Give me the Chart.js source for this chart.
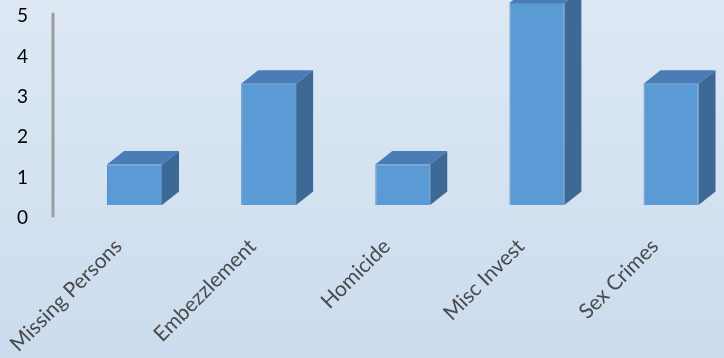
<!DOCTYPE html>
<html>
<head>
<meta charset="utf-8">
<title>Cases by type</title>
<script src="https://cdn.jsdelivr.net/npm/chart.js@4"></script>
<style>
  html, body { margin: 0; padding: 0; }
  body {
    width: 724px; height: 358px; overflow: hidden;
    background: linear-gradient(to bottom, #dde8f4, #cbdcee);
  }
  #wrap { position: relative; width: 724px; height: 358px; }
</style>
</head>
<body>
<div id="wrap"><canvas id="cases-chart"></canvas></div>
<script>
const categories = ['Missing Persons', 'Embezzlement', 'Homicide', 'Misc Invest', 'Sex Crimes'];
const caseCounts = [1, 3, 1, 5, 3];
const countTicks = [0, 1, 2, 3, 4, 5];

// oblique depth of the 3D columns
const depthX = 17;
const depthY = 13.5;

// top and right faces for each column
const columnFaces = {
    id: 'columnFaces',
    afterDatasetsDraw(chart) {
        const ctx = chart.ctx;
        chart.getDatasetMeta(0).data.forEach(bar => {
            const { x, y, base, width } = bar.getProps(['x', 'y', 'base', 'width'], true);
            const l = x - width / 2;
            const r = x + width / 2;
            ctx.save();
            ctx.fillStyle = '#4a7db7';
            ctx.beginPath();
            ctx.moveTo(l, y);
            ctx.lineTo(l + depthX, y - depthY);
            ctx.lineTo(r + depthX, y - depthY);
            ctx.lineTo(r, y);
            ctx.closePath();
            ctx.fill();
            ctx.fillStyle = '#3c6995';
            ctx.beginPath();
            ctx.moveTo(r, y);
            ctx.lineTo(r + depthX, y - depthY);
            ctx.lineTo(r + depthX, base - depthY);
            ctx.lineTo(r, base);
            ctx.closePath();
            ctx.fill();
            ctx.restore();
        });
    }
};

// grey value axis line, set back to line up with the tick labels
const axisLine = {
    id: 'axisLine',
    beforeDatasetsDraw(chart) {
        const yScale = chart.scales.y;
        const ctx = chart.ctx;
        ctx.save();
        ctx.strokeStyle = '#9c9c9c';
        ctx.lineWidth = 3;
        ctx.lineCap = 'round';
        ctx.beginPath();
        ctx.moveTo(yScale.right, yScale.getPixelForValue(countTicks[countTicks.length - 1]) + 11);
        ctx.lineTo(yScale.right, yScale.getPixelForValue(countTicks[0]) + 11);
        ctx.stroke();
        ctx.restore();
    }
};

Chart.defaults.font.family = 'Lato, "Open Sans", sans-serif';

new Chart(document.getElementById('cases-chart'), {
    type: 'bar',
    data: {
        labels: categories,
        datasets: [{
            data: caseCounts.map((v, i) => ({ x: i, y: v })),
            backgroundColor: '#5b9bd5',
            borderColor: '#5a8fc2',
            borderWidth: 1,
            categoryPercentage: 1,
            barPercentage: 0.41,
            clip: false
        }]
    },
    options: {
        responsive: true,
        maintainAspectRatio: false,
        animation: false,
        layout: { padding: { top: 3, left: 0, right: 0, bottom: 0 } },
        plugins: {
            legend: { display: false },
            tooltip: { enabled: false }
        },
        scales: {
            x: {
                type: 'linear',
                offset: false,
                bounds: 'data',
                min: -0.6076,
                max: 4.395,
                grid: { display: false, drawTicks: false },
                border: { display: false },
                afterBuildTicks: s => { s.ticks = categories.map((c, i) => ({ value: i })); },
                afterFit: s => { s.height = 153; s.paddingLeft = 0; s.paddingRight = 0; },
                ticks: {
                    autoSkip: false,
                    minRotation: 45,
                    maxRotation: 45,
                    padding: 29,
                    labelOffset: -16,
                    color: '#4a4a4a',
                    font: { size: 21 },
                    callback: v => categories[v]
                }
            },
            y: {
                min: 0,
                max: 5,
                grid: { display: false, drawTicks: false },
                border: { display: false },
                afterBuildTicks: s => { s.ticks = countTicks.map(v => ({ value: v })); },
                afterFit: s => { s.width = 53; s.paddingTop = 0; s.paddingBottom = 0; },
                ticks: {
                    padding: 25,
                    labelOffset: 13,
                    color: '#000000',
                    font: { size: 19 }
                }
            }
        }
    },
    plugins: [columnFaces, axisLine]
});
</script>
</body>
</html>
